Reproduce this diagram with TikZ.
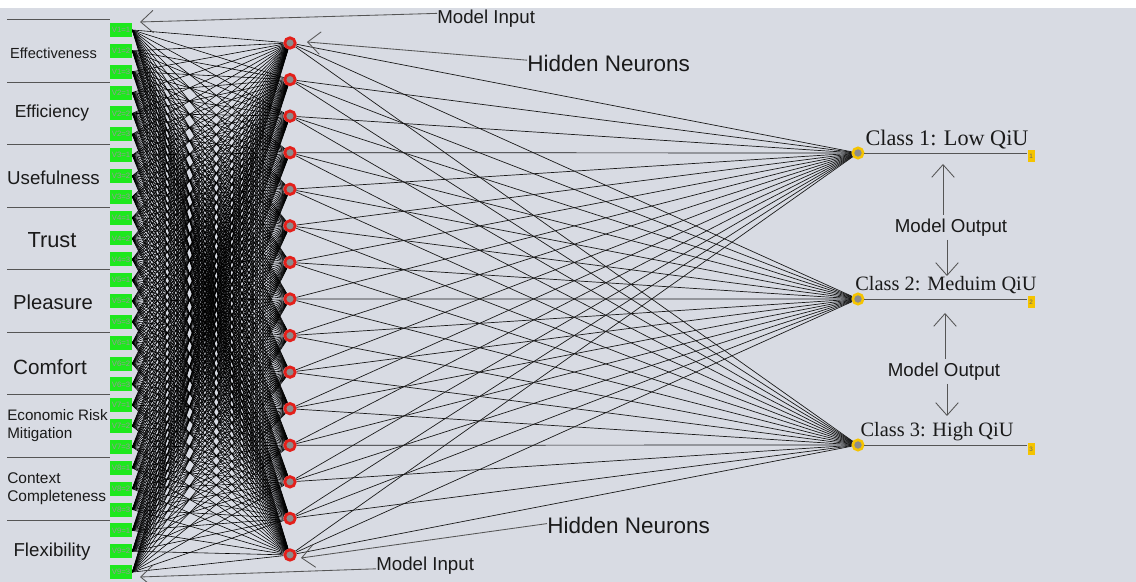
\documentclass[tikz,border=0pt]{standalone}
\usepackage{fontspec}
\setmainfont{Liberation Sans}
\newfontfamily\classfont{Liberation Serif}
\usetikzlibrary{arrows.meta, positioning, calc, backgrounds}
\definecolor{annBack}{HTML}{D8DBE3}
\definecolor{annGreen}{HTML}{1EE81E}
\definecolor{annRed}{HTML}{E3201B}
\definecolor{annYellow}{HTML}{F5C400}
\definecolor{annCore}{HTML}{8C8C8C}
\definecolor{annInk}{HTML}{1A1A1A}
\definecolor{annRule}{HTML}{555555}

\begin{document}
\begin{tikzpicture}[
    x=0.025cm, y=-0.025cm,
    inbox/.style={
        rectangle,
        fill=annGreen,
        minimum width=5.5mm,
        minimum height=3.5mm,
        inner sep=0pt,
        font=\fontsize{5.5}{5.5}\selectfont,
        text=black!40
    },
    neuron/.style={
        circle,
        draw=annRed,
        fill=annCore,
        line width=2pt,
        minimum size=2.6mm,
        inner sep=0pt
    },
    outnode/.style={
        circle,
        draw=annYellow,
        fill=annCore,
        line width=1.8pt,
        minimum size=2.6mm,
        inner sep=0pt
    },
    resbox/.style={
        rectangle,
        fill=annYellow,
        minimum width=1.75mm,
        minimum height=3mm,
        inner sep=0pt,
        font=\fontsize{4.5}{4.5}\selectfont,
        text=black!60
    },
    factor/.style={inner sep=0pt, text=annInk},
    note/.style={inner sep=0pt, text=annInk, font=\fontsize{13.3}{16}\selectfont},
    classlabel/.style={inner sep=0pt, text=annInk, font=\classfont\fontsize{14.5}{17}\selectfont},
    weight/.style={line width=0.42pt, draw=black},
    link/.style={line width=0.5pt, draw=annInk},
    sep/.style={line width=0.7pt, draw=annRule},
    pointer/.style={
        -{Straight Barb[length=9pt,width=16pt]},
        line width=0.6pt,
        draw=annRule
    }
]
\useasboundingbox (0,0) rectangle (1136,582);

% Input codes, three levels per factor
\foreach \v in {1,...,9}{
  \foreach \l in {1,2,3}{
    \pgfmathtruncatemacro{\k}{3*(\v-1)+\l}
    \node[inbox] (in-\k) at (121,{30+(\k-1)*20.85}) {V\v=\l};
  }
}

% Hidden layer
\foreach \j in {1,...,15}
  \node[neuron] (hid-\j) at (290,{43+(\j-1)*36.57}) {};

% Output layer
\foreach \c in {1,2,3}{
  \node[outnode] (out-\c) at (858,{153+(\c-1)*146}) {};
  \node[resbox] (res-\c) at (1031,{156+(\c-1)*146.5}) {\c};
  \draw[link, draw=annRule] (out-\c) -- (out-\c -| res-\c.west);
}

% Factor names and group rules
\foreach \g in {0,...,8}
  \draw[sep] (7,{19.6+62.55*\g}) -- (110,{19.6+62.55*\g});
\node[factor, font=\fontsize{10.4}{12}\selectfont] (f-1) at (53.5,53) {Effectiveness};
\node[factor, font=\fontsize{12.4}{14}\selectfont] (f-2) at (52,113) {Efficiency};
\node[factor, font=\fontsize{13.3}{15}\selectfont] (f-3) at (53.5,178) {Usefulness};
\node[factor, font=\fontsize{15.5}{18}\selectfont] (f-4) at (52,240) {Trust};
\node[factor, font=\fontsize{14.4}{17}\selectfont] (f-5) at (53,302) {Pleasure};
\node[factor, font=\fontsize{14.7}{17}\selectfont] (f-6) at (50,367) {Comfort};
\node[factor, font=\fontsize{10.8}{12.8}\selectfont, align=left, anchor=west] (f-7) at (7,426) {Economic Risk\\Mitigation};
\node[factor, font=\fontsize{11}{12.8}\selectfont, align=left, anchor=west] (f-8) at (7,489) {Context\\Completeness};
\node[factor, font=\fontsize{13.3}{15}\selectfont] (f-9) at (52,552) {Flexibility};

% Class names
\node[classlabel, font=\classfont\fontsize{15.8}{18}\selectfont] (cls-1) at (947,140) {Class 1: Low QiU};
\node[classlabel] (cls-2) at (946,285) {Class 2: Meduim QiU};
\node[classlabel] (cls-3) at (937,432) {Class 3: High QiU};

% Callouts
\coordinate (tipIn-1) at (140,22);
\coordinate (tipIn-2) at (140,577);
\coordinate (tipHid-1) at (307,42);
\coordinate (tipHid-2) at (301,558);
\node[note, anchor=west] (mIn-1) at (437,19) {Model Input};
\node[note, anchor=west] (mIn-2) at (376,566) {Model Input};
\node[note, anchor=west, font=\fontsize{16}{19}\selectfont] (hN-1) at (527,63) {Hidden Neurons};
\node[note, anchor=west, font=\fontsize{16}{19}\selectfont] (hN-2) at (547,525) {Hidden Neurons};
\draw[pointer] ([yshift=4pt]mIn-1.west) -- (tipIn-1);
\draw[pointer] ([yshift=-2pt]mIn-2.west) -- (tipIn-2);
\draw[pointer] ([yshift=2pt]hN-1.west) -- (tipHid-1);
\draw[pointer] ([yshift=1pt]hN-2.west) -- (tipHid-2);

\node[note] (mOut-1) at (951,228) {Model Output};
\node[note] (mOut-2) at (944,372) {Model Output};
\coordinate (upTip-1) at (943,164);
\coordinate (dnTip-1) at (947,276);
\coordinate (upTip-2) at (945,313);
\coordinate (dnTip-2) at (947,416);
\draw[pointer] ($(upTip-1 |- mOut-1.north)+(0,-4)$) -- (upTip-1);
\draw[pointer] ($(dnTip-1 |- mOut-1.south)+(0,3)$) -- (dnTip-1);
\draw[pointer] ($(upTip-2 |- mOut-2.north)+(0,-4)$) -- (upTip-2);
\draw[pointer] ($(dnTip-2 |- mOut-2.south)+(0,3)$) -- (dnTip-2);

% Weights, behind the nodes
\begin{scope}[on background layer]
  \fill[white] (0,0) rectangle (1136,8);
  \fill[annBack] (0,8) rectangle (1136,582);
  \foreach \k in {1,...,27}
    \foreach \j in {1,...,15}
      \draw[weight] (in-\k.east) -- (hid-\j);
  \foreach \j in {1,...,15}
    \foreach \c in {1,2,3}
      \draw[link] (hid-\j) -- (out-\c);
\end{scope}

\end{tikzpicture}
\end{document}
